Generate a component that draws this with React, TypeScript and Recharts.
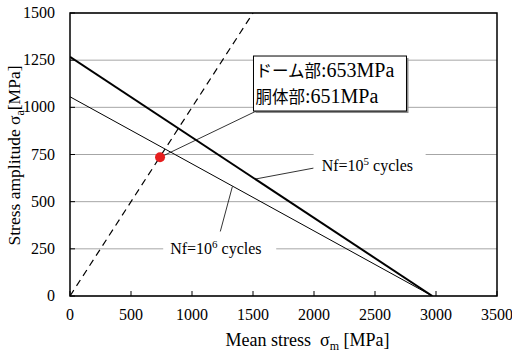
import {
  ComposedChart,
  Line,
  Scatter,
  XAxis,
  YAxis,
  CartesianGrid,
  ReferenceLine,
  ReferenceDot,
  ReferenceArea,
} from "recharts";

// modified Goodman lines (mean stress vs stress amplitude)
const meanStress = [0, 2970];
const amp1e5 = [1268, 0];
const amp1e6 = [1056, 0];
// sigma_a = sigma_m line
const ratioMean = [0, 1500];
const ratioAmp = [0, 1500];
// measured point
const pointMean = [738];
const pointAmp = [735];

const xTicks = [0, 500, 1000, 1500, 2000, 2500, 3000, 3500];
const yTicks = [0, 250, 500, 750, 1000, 1250, 1500];

const boxParts = ["ドーム部", "胴体部"];
const boxValues = [":653MPa", ":651MPa"];
const nf5Exp = "5";
const nf6Exp = "6";

// annotation anchors, in data units
const boxAt = { x: 1504, y: 1272 };
const nf5At = { x: 1997, y: 694 };
const nf6At = { x: 764, y: 250 };
const leaderBox = [{ x: pointMean[0], y: pointAmp[0] }, { x: 1545, y: 986 }];
const leaderNf5 = [{ x: 1997, y: 678 }, { x: 1520, y: 620 }];
const leaderNf6 = [{ x: 1232, y: 342 }, { x: 1331, y: 580 }];

const serif = { fontFamily: '"Liberation Serif", "DejaVu Serif", serif' };
const jp = { fontFamily: '"Noto Sans CJK JP", sans-serif' };

const line5 = meanStress.map((x, i) => ({ x, y: amp1e5[i] }));
const line6 = meanStress.map((x, i) => ({ x, y: amp1e6[i] }));
const ratio = ratioMean.map((x, i) => ({ x, y: ratioAmp[i] }));
const points = pointMean.map((x, i) => ({ x, y: pointAmp[i] }));

const XTick = ({ x, y, payload }: any) => (
  <g>
    <line x1={x} x2={x} y1={y} y2={y - 5} stroke="#000" strokeWidth={1} />
    <text x={x} y={y + 23.5} textAnchor="middle" style={serif} fontSize={16} fill="#000">
      {payload.value}
    </text>
  </g>
);

const YTick = ({ x, y, payload }: any) => (
  <g>
    <line x1={x} x2={x + 5} y1={y} y2={y} stroke="#000" strokeWidth={1} />
    <text x={x - 15} y={y + 5} textAnchor="end" style={serif} fontSize={16} fill="#000">
      {payload.value}
    </text>
  </g>
);

const XLabel = ({ viewBox }: any) => (
  <text
    x={viewBox.x + viewBox.width / 2 + 24}
    y={viewBox.y + 50}
    textAnchor="middle"
    style={serif}
    fontSize={18}
    fill="#000"
  >
    Mean stress{"\u00a0\u00a0"}σ<tspan dy={4} fontSize={12}>m</tspan>
    <tspan dy={-4}> [MPa]</tspan>
  </text>
);

const YLabel = ({ viewBox }: any) => {
  const cx = 20;
  const cy = viewBox.y + viewBox.height / 2 + 1;
  return (
    <text
      x={cx}
      y={cy}
      transform={`rotate(-90 ${cx} ${cy})`}
      textAnchor="middle"
      style={serif}
      fontSize={17.5}
      fill="#000"
    >
      Stress amplitude σ<tspan dy={4} fontSize={12}>a</tspan>
      <tspan dy={-4}>[MPa]</tspan>
    </text>
  );
};

const BoxShape = ({ cx, cy }: any) => (
  <g>
    <rect x={cx + 2} y={cy + 2} width={153} height={55} fill="#8c8c8c" />
    <rect x={cx} y={cy} width={153} height={55} fill="#fff" stroke="#000" strokeWidth={1} />
    {boxParts.map((t, i) => (
      <text key={i} x={cx + 2} y={cy + 21 + i * 26} fontSize={16.5} fill="#000">
        <tspan style={jp}>{t}</tspan>
        <tspan style={serif} fontSize={20}>{boxValues[i]}</tspan>
      </text>
    ))}
  </g>
);

const Nf5Shape = ({ cx, cy }: any) => (
  <g>
    <rect x={cx} y={cy - 13} width={112} height={26} fill="#fff" />
    <text x={cx + 8} y={cy + 6} style={serif} fontSize={16} fill="#000">
      Nf=10<tspan dy={-6} fontSize={11}>{nf5Exp}</tspan>
      <tspan dy={6}> cycles</tspan>
    </text>
  </g>
);

const Nf6Shape = ({ cx, cy }: any) => (
  <g>
    <rect x={cx} y={cy - 12} width={113} height={24} fill="#fff" />
    <text x={cx + 7} y={cy + 5} style={serif} fontSize={16} fill="#000">
      Nf=10<tspan dy={-6} fontSize={11}>{nf6Exp}</tspan>
      <tspan dy={6}> cycles</tspan>
    </text>
  </g>
);

export default function App() {
  return (
    <div style={{ position: "absolute", left: 0, top: 0, background: "#fff", ...serif }}>
      <ComposedChart width={512} height={356} margin={{ top: 13, right: 15, bottom: 0, left: 0 }}>
        <CartesianGrid vertical={false} stroke="#a6a6a6" strokeWidth={1} />
        <XAxis
          type="number"
          dataKey="x"
          domain={[0, 3500]}
          ticks={xTicks}
          interval={0}
          height={60}
          tickSize={0}
          tickMargin={0}
          tickLine={false}
          axisLine={false}
          tick={<XTick />}
          label={{ content: <XLabel /> }}
          allowDataOverflow
        />
        <YAxis
          type="number"
          dataKey="y"
          domain={[0, 1500]}
          ticks={yTicks}
          interval={0}
          width={70}
          tickSize={0}
          tickMargin={0}
          tickLine={false}
          axisLine={false}
          tick={<YTick />}
          label={{ content: <YLabel /> }}
          allowDataOverflow
        />
        <ReferenceArea x1={0} x2={3500} y1={0} y2={1500} fill="none" stroke="#000" strokeWidth={1.5} />
        <Line data={ratio} dataKey="y" stroke="#000" strokeWidth={1.2} strokeDasharray="7 5" dot={false} isAnimationActive={false} />
        <Line data={line5} dataKey="y" stroke="#000" strokeWidth={2} dot={false} isAnimationActive={false} />
        <Line data={line6} dataKey="y" stroke="#000" strokeWidth={1} dot={false} isAnimationActive={false} />
        <ReferenceLine segment={leaderBox} stroke="#000" strokeWidth={0.8} />
        <ReferenceLine segment={leaderNf5} stroke="#000" strokeWidth={0.8} />
        <ReferenceLine segment={leaderNf6} stroke="#000" strokeWidth={0.8} />
        <ReferenceDot x={boxAt.x} y={boxAt.y} shape={BoxShape} />
        <ReferenceDot x={nf5At.x} y={nf5At.y} shape={Nf5Shape} />
        <ReferenceDot x={nf6At.x} y={nf6At.y} shape={Nf6Shape} />
        <Scatter
          data={points}
          dataKey="y"
          fill="#e61e1e"
          isAnimationActive={false}
          shape={({ cx, cy }: any) => <circle cx={cx} cy={cy} r={5} fill="#e61e1e" />}
        />
      </ComposedChart>
    </div>
  );
}
